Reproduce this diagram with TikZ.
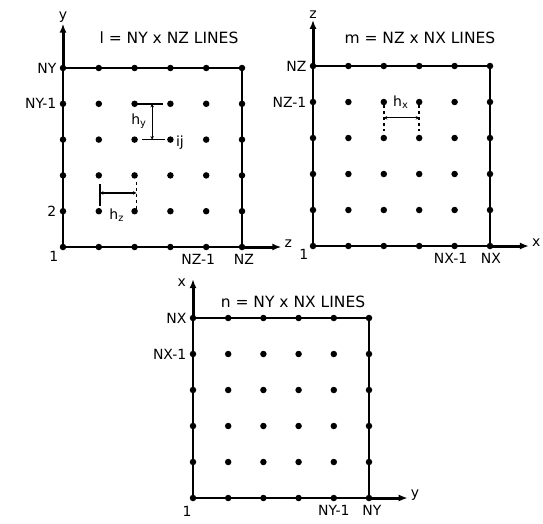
\documentclass[tikz,border=0pt]{standalone}
\usepackage{fontspec}
\setmainfont{DejaVu Sans}
\usetikzlibrary{arrows.meta, positioning}

\begin{document}
\begin{tikzpicture}[
    x=1pt, y=-1pt,
    gridpt/.style={circle, fill=black, inner sep=0pt, minimum size=6.5pt},
    frame/.style={line width=2pt},
    axis/.style={line width=3pt, -{Latex[length=9pt,width=7pt]}},
    dimline/.style={line width=1.2pt, {Stealth[length=3.5pt,width=3.5pt]}-{Stealth[length=3.5pt,width=3.5pt]}},
    dimtick/.style={line width=1.6pt},
    lbl/.style={font=\fontsize{14}{14}\selectfont, inner sep=1pt},
    ttl/.style={font=\fontsize{15.5}{16}\selectfont, inner sep=0pt}
]

\useasboundingbox (0,0) rectangle (543,523);

% Panel l (y-z plane)
\begin{scope}[shift={(63,247)}, x=35.8pt, y=35.8pt]
\foreach \i in {0,...,5}
  \foreach \j in {0,...,5}
    \node[gridpt] (l-\i-\j) at (\i,\j) {};
\draw[frame] (l-0-0.center) rectangle (l-5-5.center);
\node[ttl] (l-title) at (2.96,5.84) {l = NY x NZ LINES};
\node[lbl] (l-yax) at (0,6.42) {y};
\coordinate (l-ztip) at (6.1,0);
\node[lbl, right=2pt of l-ztip, yshift=3pt] (l-zax) {z};
\draw[axis] (l-0-5.center) -- (l-yax.south);
\draw[axis] (l-5-0.center) -- (l-ztip);
\node[lbl, left=2pt of l-0-5] {NY};
\node[lbl, left=2pt of l-0-4] {NY-1};
\node[lbl, left=2pt of l-0-1] {2};
\node[lbl, below left=1pt and 1pt of l-0-0] {1};
\node[lbl, below=3pt of l-4-0, xshift=-8pt] {NZ-1};
\node[lbl, below=3pt of l-5-0, xshift=2pt] {NZ};
% spacing marks
\draw[dimtick] (1.93,4) -- (2.8,4);
\draw[dimtick] (2.2,3) -- (2.85,3);
\draw[dimline] (2.49,4) -- (2.49,3);
\node[lbl] at (2.12,3.52) {h\textsubscript{y}};
\node[lbl, right=1pt of l-3-3, yshift=-3pt] {ij};
\draw[dimtick] (1.03,1.75) -- (1.03,1.15);
\draw[dimtick, dashed] (2.05,1.82) -- (2.05,1.05);
\draw[dimline] (1.03,1.51) -- (2.05,1.51);
\node[lbl] at (1.5,0.88) {h\textsubscript{z}};
\end{scope}

% Panel m (z-x plane)
\begin{scope}[shift={(313,246)}, x=35.4pt, y=36pt]
\foreach \i in {0,...,5}
  \foreach \j in {0,...,5}
    \node[gridpt] (m-\i-\j) at (\i,\j) {};
\draw[frame] (m-0-0.center) rectangle (m-5-5.center);
\node[ttl] (m-title) at (3.02,5.78) {m = NZ x NX LINES};
\node[lbl] (m-zax) at (0,6.42) {z};
\coordinate (m-xtip) at (6.1,0);
\node[lbl, right=2pt of m-xtip, yshift=3pt] (m-xax) {x};
\draw[axis] (m-0-5.center) -- (m-zax.south);
\draw[axis] (m-5-0.center) -- (m-xtip);
\node[lbl, left=2pt of m-0-5] {NZ};
\node[lbl, left=2pt of m-0-4] {NZ-1};
\node[lbl, below left=0pt and 1pt of m-0-0] {1};
\node[lbl, below=3pt of m-4-0, xshift=-4pt] {NX-1};
\node[lbl, below=3pt of m-5-0, xshift=1pt] {NX};
% spacing mark
\draw[dimtick, dashed] (2,3.92) -- (2,3.2);
\draw[dimtick, dashed] (3,3.92) -- (3,3.2);
\draw[dimline] (2,3.56) -- (3,3.56);
\node[lbl] at (2.48,4.0) {h\textsubscript{x}};
\end{scope}

% Panel n (x-y plane)
\begin{scope}[shift={(193,498)}, x=35.2pt, y=36pt]
\foreach \i in {0,...,5}
  \foreach \j in {0,...,5}
    \node[gridpt] (n-\i-\j) at (\i,\j) {};
\draw[frame] (n-0-0.center) rectangle (n-5-5.center);
\node[ttl] (n-title) at (2.84,5.44) {n = NY x NX LINES};
\coordinate (n-xtip) at (0,6.08);
\node[lbl] (n-xax) at (-0.32,5.98) {x};
\coordinate (n-ytip) at (6.1,0);
\node[lbl, right=2pt of n-ytip, yshift=3pt] (n-yax) {y};
\draw[axis] (n-0-5.center) -- (n-xtip);
\draw[axis] (n-5-0.center) -- (n-ytip);
\node[lbl, left=2pt of n-0-5] {NX};
\node[lbl, left=2pt of n-0-4] {NX-1};
\node[lbl, below=4pt of n-0-0, xshift=-6pt] {1};
\node[lbl, below=3pt of n-4-0] {NY-1};
\node[lbl, below=3pt of n-5-0, xshift=3pt] {NY};
\end{scope}

\end{tikzpicture}
\end{document}
